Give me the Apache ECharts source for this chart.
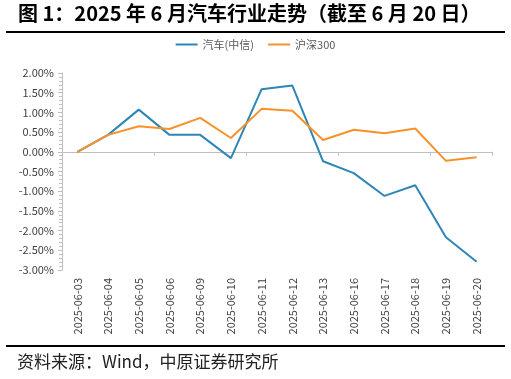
<!DOCTYPE html>
<html><head><meta charset="utf-8">
<script src="https://cdn.jsdelivr.net/npm/echarts@6/dist/echarts.min.js"></script>
<style>html,body{margin:0;padding:0;background:#fff}#c{width:511px;height:379px}</style>
</head><body><div id="c"></div>
<script>
var categories = ['2025-06-03','2025-06-04','2025-06-05','2025-06-06','2025-06-09','2025-06-10','2025-06-11','2025-06-12','2025-06-13','2025-06-16','2025-06-17','2025-06-18','2025-06-19','2025-06-20'];
var autoValues = [0.00, 0.43, 1.07, 0.43, 0.43, -0.16, 1.59, 1.68, -0.24, -0.54, -1.12, -0.85, -2.17, -2.79];
var hs300Values = [0.00, 0.43, 0.65, 0.58, 0.86, 0.35, 1.09, 1.04, 0.30, 0.56, 0.47, 0.59, -0.23, -0.14];
var seriesNames = ['汽车(中信)', '沪深300'];
var titleText = '图 1：2025 年 6 月汽车行业走势（截至 6 月 20 日）';
var sourceText = '资料来源：Wind，中原证券研究所';

var chart = echarts.init(document.getElementById('c'), null, {renderer:'canvas'});
var font = '"Noto Sans CJK SC", "Liberation Sans", sans-serif';
chart.setOption({
  animation: false,
  textStyle: {fontFamily: font},
  graphic: [
    {type:'text', left: 18, top: 3, style:{text: titleText, font: 'bold 20px ' + font, fill:'#000'}},
    {type:'rect', shape:{x:6, y:31, width:499, height:2}, style:{fill:'#000'}},
    {type:'rect', shape:{x:6, y:345, width:499, height:2}, style:{fill:'#000'}},
    {type:'text', left: 17, top: 353, style:{text: sourceText, font: '17px ' + font, fill:'#222'}}
  ],
  legend: {
    top: 34, left: 'center',
    itemWidth: 22, itemHeight: 2, itemGap: 14,
    icon: 'rect',
    textStyle: {fontSize: 11, color: '#595959', fontFamily: font},
    data: seriesNames
  },
  grid: {left: 62, right: 19, top: 73, bottom: 109, containLabel: false, outerBoundsMode: 'none'},
  xAxis: [{
    type: 'category', data: categories, boundaryGap: true, position: 'bottom',
    axisLine: {show: false, onZero: false},
    axisTick: {show: false},
    axisLabel: {rotate: 90, interval: 0, fontSize: 11, color: '#404040', margin: 8, fontFamily: font}
  }, {
    type: 'category', data: categories, boundaryGap: true, position: 'bottom',
    axisLine: {show: true, onZero: true, lineStyle: {color: '#bfbfbf', width: 1}},
    axisTick: {show: true, inside: false, length: 4, lineStyle: {color: '#bfbfbf'}},
    axisLabel: {show: false}
  }],
  yAxis: {
    type: 'value', min: -3, max: 2, interval: 0.5,
    axisLine: {show: true, lineStyle: {color: '#bfbfbf'}},
    axisTick: {show: true, length: 4, lineStyle: {color: '#bfbfbf'}},
    minorTick: {show: true, splitNumber: 5, length: 3, lineStyle: {color: '#bfbfbf'}},
    splitLine: {show: false},
    axisLabel: {fontSize: 11, color: '#404040', margin: 8, fontFamily: font,
      formatter: function(v){ return v.toFixed(2) + '%'; }}
  },
  series: [
    {name: seriesNames[0], type: 'line', xAxisIndex: 0, data: autoValues, symbol: 'none', lineStyle: {color: '#2e86b5', width: 2}, itemStyle: {color: '#2e86b5'}},
    {name: seriesNames[1], type: 'line', xAxisIndex: 0, data: hs300Values, symbol: 'none', lineStyle: {color: '#f7922a', width: 2}, itemStyle: {color: '#f7922a'}}
  ]
});
</script></body></html>
